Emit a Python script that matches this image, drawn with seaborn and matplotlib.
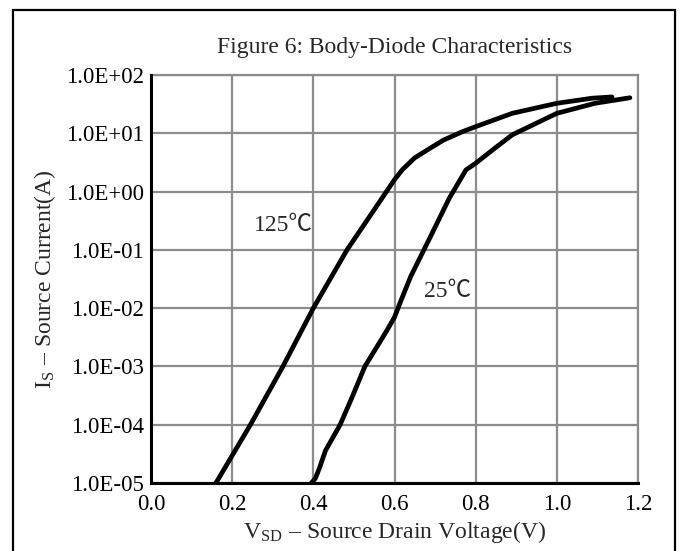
import matplotlib
matplotlib.use('Agg')
import matplotlib.pyplot as plt
from matplotlib.patches import Rectangle
import numpy as np
import pandas as pd
import seaborn as sns

# Curve readings
v_125 = [0.16, 0.245, 0.325, 0.40, 0.483, 0.52, 0.564, 0.60, 0.62, 0.65, 0.687, 0.72, 0.768, 0.80, 0.89, 1.00, 1.087, 1.136]
i_125 = [1e-5, 1e-4, 1e-3, 1e-2, 1e-1, 0.24, 0.68, 1.6, 2.4, 3.8, 5.5, 7.6, 10.7, 13, 22, 32.7, 40, 42]

v_25 = [0.395, 0.405, 0.415, 0.43, 0.466, 0.494, 0.527, 0.58, 0.60, 0.615, 0.64, 0.687, 0.735, 0.776, 0.80, 0.842, 0.89, 1.00, 1.094, 1.18]
i_25 = [1e-5, 1.2e-5, 1.8e-5, 3.6e-5, 1e-4, 2.8e-4, 1e-3, 4e-3, 7e-3, 1.3e-2, 3.5e-2, 0.16, 0.77, 2.35, 3.06, 5.2, 9.4, 22, 32.7, 40.7]

x_ticks = [0.0, 0.2, 0.4, 0.6, 0.8, 1.0, 1.2]
x_labels = ["0.0", "0.2", "0.4", "0.6", "0.8", "1.0", "1.2"]
y_ticks = [1e-5, 1e-4, 1e-3, 1e-2, 1e-1, 1e0, 1e1, 1e2]
y_labels = ["1.0E-05", "1.0E-04", "1.0E-03", "1.0E-02", "1.0E-01", "1.0E+00", "1.0E+01", "1.0E+02"]

df = pd.concat([
    pd.DataFrame({"v": v_125, "i": i_125, "temp": "125"}),
    pd.DataFrame({"v": v_25, "i": i_25, "temp": "25"}),
])

sns.set_style("white")
plt.rcParams['font.family'] = ['Liberation Serif', 'Noto Sans CJK SC', 'DejaVu Sans']
plt.rcParams['mathtext.fontset'] = 'stix'

fig = plt.figure(figsize=(6.83, 5.51), dpi=100)
ax = fig.add_axes([151 / 683, 1 - 483 / 551, 487 / 683, 408 / 551])

sns.lineplot(data=df, x="v", y="i", hue="temp", palette=["black", "black"],
             estimator=None, sort=False, linewidth=3.4, legend=False, ax=ax)

ax.set_yscale("log")
ax.set_xlim(0, 1.2)
ax.set_ylim(1e-5, 1e2)
ax.set_xticks(x_ticks)
ax.set_xticklabels(x_labels)
ax.set_yticks(y_ticks)
ax.set_yticklabels(y_labels)
ax.minorticks_off()
ax.tick_params(length=0, labelsize=16.5, colors="black")
ax.tick_params(axis="y", pad=5)
ax.tick_params(axis="x", pad=8)

ax.grid(True, color="#8c8c8c", linewidth=1.6)
for side in ["top", "right"]:
    ax.spines[side].set_color("#8c8c8c")
    ax.spines[side].set_linewidth(1.6)
for side in ["left", "bottom"]:
    ax.spines[side].set_color("black")
    ax.spines[side].set_linewidth(2.2)
    ax.spines[side].set_zorder(5)

ax.set_xlabel(r"V$_\mathregular{SD}$ – Source Drain Voltage(V)", fontsize=17, labelpad=3)
ax.set_ylabel(r"I$_\mathregular{S}$ – Source Current(A)", fontsize=17, labelpad=6)
ax.set_title("Figure 6: Body-Diode Characteristics", fontsize=17, pad=16)

ax.text(0.326, 0.26, "125℃", fontsize=17, ha="center", va="center")
ax.text(0.73, 0.019, "25℃", fontsize=17, ha="center", va="center")

fig.patches.append(Rectangle((13 / 683, -0.02), 662 / 683, 1.02 - 10 / 551,
                             transform=fig.transFigure, fill=False,
                             edgecolor="black", linewidth=1.6))

fig.savefig("out.png", dpi=100)
